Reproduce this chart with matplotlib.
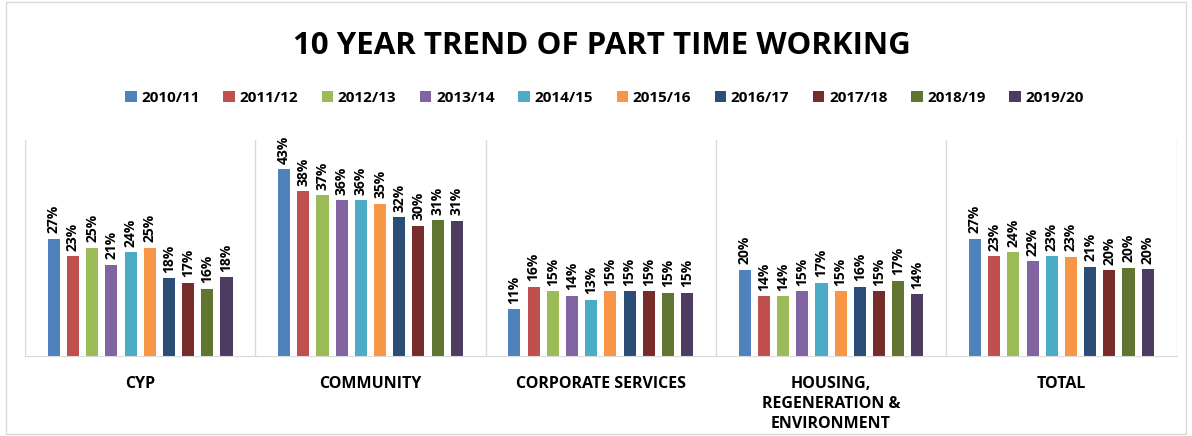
import numpy as np
import matplotlib.pyplot as plt
from matplotlib.patches import Rectangle

plt.rcParams['font.family'] = ['Open Sans', 'DejaVu Sans']

categories = ['CYP', 'COMMUNITY', 'CORPORATE SERVICES',
              'HOUSING,\nREGENERATION &\nENVIRONMENT', 'TOTAL']
years = ['2010/11', '2011/12', '2012/13', '2013/14', '2014/15',
         '2015/16', '2016/17', '2017/18', '2018/19', '2019/20']

# percent part time, one list per year (order: CYP, Community, Corporate, Housing, Total)
y2010 = [27.1, 43.2, 10.9, 20.0, 27.1]
y2011 = [23.1, 38.1, 16.0, 13.9, 23.1]
y2012 = [25.1, 37.2, 15.0, 13.9, 24.0]
y2013 = [21.1, 36.1, 14.0, 15.0, 22.0]
y2014 = [24.0, 36.1, 13.0, 17.0, 23.1]
y2015 = [25.1, 35.2, 15.0, 15.0, 23.0]
y2016 = [18.0, 32.1, 15.0, 16.0, 20.7]
y2017 = [17.0, 30.1, 15.0, 15.0, 19.9]
y2018 = [15.6, 31.45, 14.7, 17.4, 20.4]
y2019 = [18.2, 31.3, 14.7, 14.3, 20.1]
series = [y2010, y2011, y2012, y2013, y2014, y2015, y2016, y2017, y2018, y2019]

colors = ['#4F81BD', '#C0504D', '#9BBB59', '#8064A2', '#4BACC6',
          '#F79646', '#2C4D75', '#772C2A', '#5F7530', '#4D3B62']

fig = plt.figure(figsize=(11.92, 4.36), dpi=100)
ax = fig.add_axes([0.021, 0.183, 0.966, 0.496])

index = np.arange(len(categories))
slot = 1 / 12
bar_width = 0.63 * slot

for j, (vals, c, lab) in enumerate(zip(series, colors, years)):
    xs = index + (j - 4.5) * slot
    bars = ax.bar(xs, vals, bar_width, color=c, label=lab)
    for b, v in zip(bars, vals):
        ax.annotate('{:.0f}%'.format(v), (b.get_x() + b.get_width() / 2, v),
                    xytext=(0, 4), textcoords='offset points',
                    rotation=90, ha='center', va='bottom',
                    fontsize=10, fontweight='bold')

ax.set_xlim(-0.5, 4.5)
ax.set_ylim(0, 50)
ax.set_yticks([])
ax.set_xticks(index)
ax.set_xticklabels(categories, fontsize=11.5, fontweight='bold', linespacing=1.35)
ax.tick_params(axis='x', length=0, pad=14)
for s in ['top', 'right', 'left']:
    ax.spines[s].set_visible(False)
ax.spines['bottom'].set_color('#d9d9d9')
for k in range(6):
    ax.axvline(-0.5 + k, color='#d9d9d9', lw=1)

fig.text(0.505, 0.894, '10 YEAR TREND OF PART TIME WORKING', ha='center',
         va='center', fontsize=22.5, fontweight='bold')
fig.legend(loc='center', bbox_to_anchor=(0.507, 0.775), ncol=10,
           frameon=False, handlelength=0.75, handleheight=0.75,
           handletextpad=0.3, columnspacing=1.55,
           prop={'weight': 'bold', 'size': 11})

fig.patches.append(Rectangle((0.005, 0.005), 0.99, 0.99, transform=fig.transFigure,
                             fill=False, edgecolor='#d9d9d9', lw=1))

fig.savefig('out.png', dpi=100)
